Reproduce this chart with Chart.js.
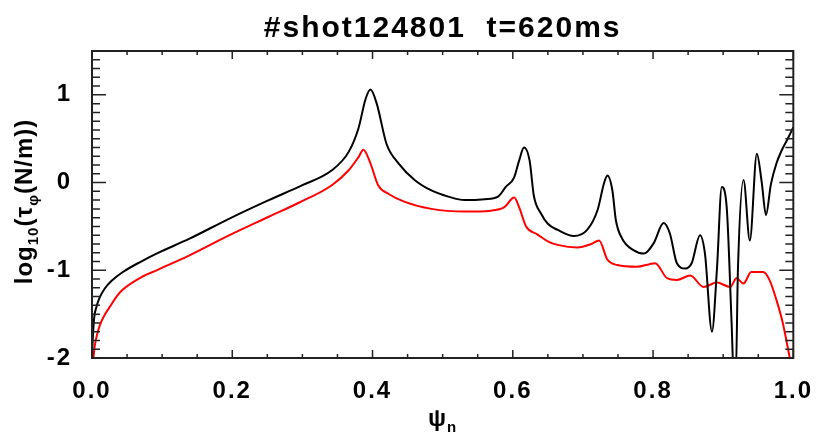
<!DOCTYPE html>
<html>
<head>
<meta charset="utf-8">
<script src="https://cdn.jsdelivr.net/npm/chart.js@4.4.0/dist/chart.umd.min.js"></script>
<style>
  body { margin: 0; background: #fff; }
  canvas { display: block; }
</style>
</head>
<body>
<canvas id="plot1" width="821" height="433"></canvas>
<script>
// Datos (psi_n, log10 tau)
let psiNegro = [0.000, 0.001, 0.003, 0.0066, 0.011, 0.018, 0.028, 0.044, 0.07, 0.092, 0.139, 0.196, 0.252, 0.30, 0.342, 0.366, 0.380, 0.390, 0.397, 0.406, 0.420, 0.437, 0.460, 0.484, 0.508, 0.531, 0.560, 0.579, 0.590, 0.602, 0.609, 0.616, 0.624, 0.630, 0.640, 0.650, 0.664, 0.687, 0.706, 0.721, 0.730, 0.735, 0.742, 0.747, 0.756, 0.772, 0.787, 0.801, 0.815, 0.824, 0.834, 0.846, 0.855, 0.867, 0.874, 0.884, 0.891, 0.898, 0.905, 0.912, 0.915, 0.918, 0.921, 0.929, 0.938, 0.948, 0.955, 0.961, 0.968, 0.976, 0.983, 0.992, 1.000];
let tauNegro = [-2.0, -1.80, -1.55, -1.41, -1.31, -1.21, -1.12, -1.02, -0.90, -0.81, -0.64, -0.41, -0.20, -0.03, 0.14, 0.35, 0.62, 0.95, 1.06, 0.90, 0.44, 0.22, 0.03, -0.09, -0.16, -0.20, -0.19, -0.16, -0.05, 0.06, 0.25, 0.40, 0.25, -0.15, -0.35, -0.47, -0.54, -0.61, -0.54, -0.31, -0.01, 0.08, -0.09, -0.43, -0.64, -0.77, -0.81, -0.69, -0.46, -0.58, -0.92, -0.98, -0.92, -0.60, -0.81, -1.70, -1.00, -0.05, -0.28, -1.6, -2.2, -2.2, -1.0, 0.03, -0.66, 0.33, 0.0, -0.37, -0.02, 0.22, 0.36, 0.50, 0.63];

let psiRojo = [0.002, 0.004, 0.007, 0.011, 0.018, 0.026, 0.035, 0.044, 0.07, 0.092, 0.139, 0.196, 0.252, 0.295, 0.342, 0.366, 0.380, 0.387, 0.397, 0.408, 0.423, 0.446, 0.484, 0.531, 0.569, 0.588, 0.602, 0.609, 0.619, 0.635, 0.650, 0.664, 0.692, 0.712, 0.723, 0.735, 0.749, 0.777, 0.795, 0.803, 0.820, 0.834, 0.853, 0.872, 0.891, 0.910, 0.919, 0.929, 0.940, 0.957, 0.966, 0.976, 0.985, 0.995, 1.0];
let tauRojo = [-2.0, -1.86, -1.74, -1.63, -1.51, -1.41, -1.30, -1.22, -1.08, -1.00, -0.83, -0.60, -0.39, -0.23, -0.03, 0.14, 0.29, 0.375, 0.22, -0.03, -0.13, -0.22, -0.30, -0.33, -0.32, -0.28, -0.17, -0.28, -0.50, -0.59, -0.67, -0.71, -0.74, -0.70, -0.66, -0.88, -0.94, -0.96, -0.93, -0.92, -1.09, -1.11, -1.06, -1.19, -1.14, -1.19, -1.09, -1.15, -1.02, -1.02, -1.11, -1.34, -1.60, -2.0, -2.2];

let xTicks = [0, 0.2, 0.4, 0.6, 0.8, 1.0];
let yTicks = [-2, -1, 0, 1];

let titulo = "#shot124801  t=620ms";
let etiquetaY = [["log", false], ["10", true], ["(\u03C4", false], ["\u03C6", true], ["(N/m))", false]];
let etiquetaX = [["\u03C8", false], ["n", true]];

let fuente = "'Liberation Sans', Arial, sans-serif";

let aPuntos = (xs, ys) => xs.map((x, i) => ({ x: x, y: ys[i] }));

// Dibuja texto con subindices, devuelve el ancho total
let textoSub = (ctx, partes, x0, y0, medir) => {
  let x = x0;
  partes.forEach(([txt, sub]) => {
    ctx.font = sub ? "bold 15px " + fuente : "bold 24px " + fuente;
    if (!medir) ctx.fillText(txt, x, sub ? y0 + 6 : y0);
    x += ctx.measureText(txt).width;
  });
  return x - x0;
};

let marcoPlugin = {
  id: "marco",
  beforeDraw: (chart) => {
    // separacion de letras parecida a la fuente de IDL
    chart.ctx.letterSpacing = "2px";
  },
  afterDraw: (chart) => {
    let ctx = chart.ctx;
    let area = chart.chartArea;
    let sx = chart.scales.x;
    let sy = chart.scales.y;
    ctx.save();
    ctx.strokeStyle = "#222";
    ctx.lineWidth = 2;
    ctx.strokeRect(area.left, area.top, area.right - area.left, area.bottom - area.top);

    ctx.lineWidth = 1.5;
    ctx.beginPath();
    for (let i = 0; i <= 20; i++) {
      let px = sx.getPixelForValue(i * 0.05);
      let len = i % 4 === 0 ? 8 : 4;
      ctx.moveTo(px, area.bottom);
      ctx.lineTo(px, area.bottom - len);
      ctx.moveTo(px, area.top);
      ctx.lineTo(px, area.top + len);
    }
    for (let i = 0; i <= 35; i++) {
      let py = sy.getPixelForValue(-2 + i * 0.1);
      let len = i % 10 === 0 ? 14 : 8;
      ctx.moveTo(area.left, py);
      ctx.lineTo(area.left + len, py);
      ctx.moveTo(area.right, py);
      ctx.lineTo(area.right - len, py);
    }
    ctx.stroke();

    ctx.fillStyle = "#000";
    ctx.letterSpacing = "2px";
    ctx.textAlign = "center";
    ctx.textBaseline = "alphabetic";
    ctx.font = "bold 30px " + fuente;
    ctx.fillText(titulo, (area.left + area.right) / 2, 37);

    ctx.letterSpacing = "1px";
    ctx.textAlign = "left";
    // titulo eje x
    let wx = textoSub(ctx, etiquetaX, 0, 0, true);
    textoSub(ctx, etiquetaX, (area.left + area.right) / 2 - wx / 2, 426, false);

    // titulo eje y (rotado)
    ctx.translate(32, (area.top + area.bottom) / 2 - 3);
    ctx.rotate(-Math.PI / 2);
    let wy = textoSub(ctx, etiquetaY, 0, 0, true);
    textoSub(ctx, etiquetaY, -wy / 2, 0, false);
    ctx.restore();
  },
};

let plotRef = document.getElementById("plot1");

let config = {
  type: "line",
  data: {
    datasets: [
      {
        label: "negro",
        data: aPuntos(psiNegro, tauNegro),
        borderColor: "#000000",
        borderWidth: 2,
        pointRadius: 0,
        cubicInterpolationMode: "monotone",
      },
      {
        label: "rojo",
        data: aPuntos(psiRojo, tauRojo),
        borderColor: "#ff0000",
        borderWidth: 2,
        pointRadius: 0,
        cubicInterpolationMode: "monotone",
      },
    ],
  },
  options: {
    responsive: false,
    animation: false,
    layout: { padding: { left: 0, right: 24, top: 51, bottom: 0 } },
    plugins: {
      legend: { display: false },
      title: { display: false },
      tooltip: { enabled: false },
    },
    scales: {
      x: {
        type: "linear",
        min: 0,
        max: 1,
        grid: { display: false },
        border: { display: false },
        afterBuildTicks: (scale) => {
          scale.ticks = xTicks.map((v) => ({ value: v }));
        },
        afterFit: (scale) => {
          scale.height = 75;
        },
        ticks: {
          color: "#000",
          padding: 11,
          maxRotation: 0,
          font: { family: fuente, size: 24, weight: "bold" },
          callback: (v) => v.toFixed(1),
        },
      },
      y: {
        type: "linear",
        min: -2,
        max: 1.5,
        grid: { display: false },
        border: { display: false },
        afterBuildTicks: (scale) => {
          scale.ticks = yTicks.map((v) => ({ value: v }));
        },
        afterFit: (scale) => {
          scale.width = 92;
        },
        ticks: {
          color: "#000",
          padding: 12,
          font: { family: fuente, size: 24, weight: "bold" },
          callback: (v) => String(v),
        },
      },
    },
  },
  plugins: [marcoPlugin],
};

let chart1 = new Chart(plotRef, config);
</script>
</body>
</html>
